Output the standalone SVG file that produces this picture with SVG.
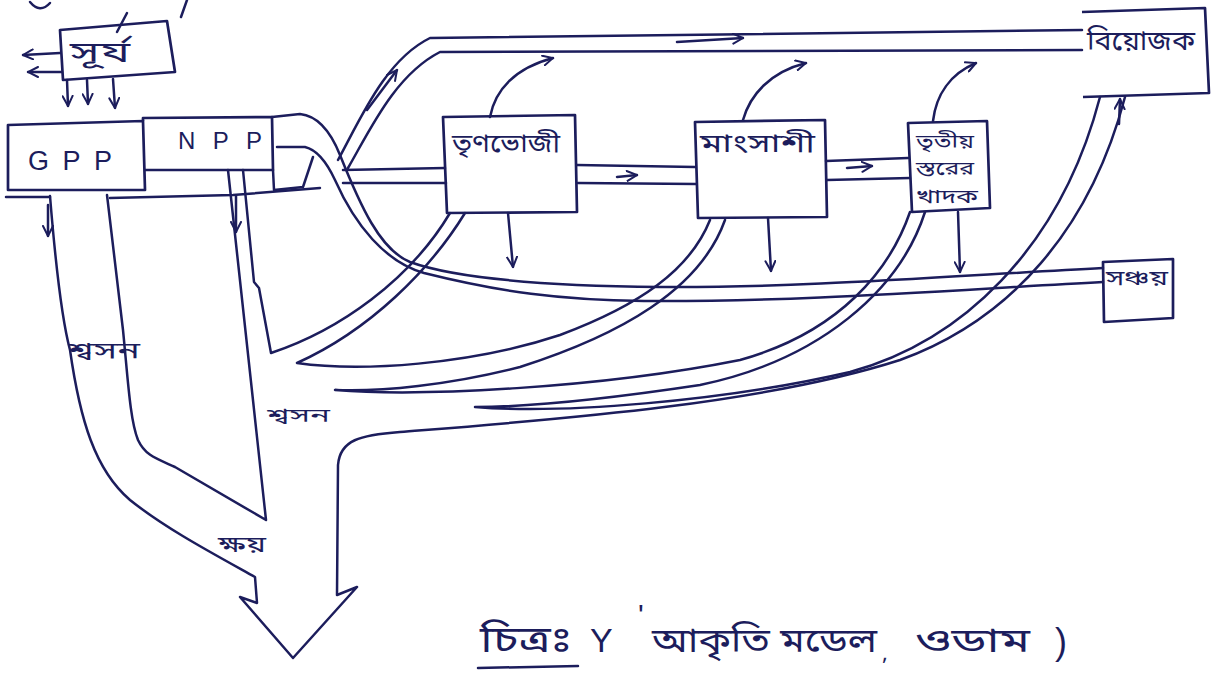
<svg xmlns="http://www.w3.org/2000/svg" width="1223" height="675" viewBox="0 0 1223 675">
<style>
.ink{fill:none;stroke:#1c1d5c;stroke-width:2.5;stroke-linecap:round;stroke-linejoin:round}
.box{fill:none;stroke:#1c1d5c;stroke-width:2.7;stroke-linejoin:round}
.t{font-family:"Noto Sans Bengali","Noto Sans","DejaVu Sans",sans-serif;fill:#1c1d5c}
.lat{font-family:"Liberation Sans","DejaVu Sans",sans-serif;fill:#1c1d5c}
</style>
<defs>
<marker id="ah" viewBox="0 0 12 12" refX="11" refY="6" markerWidth="12" markerHeight="12" markerUnits="userSpaceOnUse" orient="auto">
<path d="M1,1 L11,6 L1,11" fill="none" stroke="#1c1d5c" stroke-width="2" stroke-linecap="round"/>
</marker>
</defs>
<rect width="1223" height="675" fill="#ffffff"/>

<!-- page artefacts -->
<path class="ink" d="M30 2 Q40 14 50 3"/>
<path class="ink" d="M187 0 L181 17"/>

<g id="sun">
<path class="box" d="M60 30 L167 21 L175 72 L63 80 Z"/>
<path class="ink" d="M117 32 L127 13"/>
<text class="t" x="70" y="62" font-size="28" textLength="60" lengthAdjust="spacingAndGlyphs">সূর্য</text>
</g>
<g id="gpp">
<path class="box" d="M8 125 L143 121 L145 190 L8 190 Z"/>
<path class="ink" d="M6 197 L50 197"/>
<text class="lat" x="28" y="170" font-size="27" textLength="84" lengthAdjust="spacing">GPP</text>
</g>
<g id="npp">
<path class="box" d="M143 121 L143 118 L272 117 L273 170 L145 170"/>
<text class="lat" x="178" y="149" font-size="24" textLength="84" lengthAdjust="spacing">NPP</text>
</g>
<g id="herbivore">
<path class="box" d="M443 117 L575 115 L577 212 L447 213 Z"/>
<text class="t" x="452" y="152" font-size="26" textLength="108" lengthAdjust="spacingAndGlyphs">তৃণভোজী</text>
</g>
<g id="carnivore">
<path class="box" d="M695 122 L825 120 L827 217 L698 218 Z"/>
<text class="t" x="700" y="152" font-size="26" textLength="115" lengthAdjust="spacingAndGlyphs">মাংসাশী</text>
</g>
<g id="tertiary">
<path class="box" d="M908 123 L987 121 L990 208 L912 212 Z"/>
<text class="t" x="916" y="148" font-size="19" textLength="58" lengthAdjust="spacingAndGlyphs">তৃতীয়</text>
<text class="t" x="916" y="175" font-size="19" textLength="58" lengthAdjust="spacingAndGlyphs">স্তরের</text>
<text class="t" x="916" y="203" font-size="19" textLength="62" lengthAdjust="spacingAndGlyphs">খাদক</text>
</g>
<g id="decomposer">
<path class="box" d="M1082 12 L1205 8 L1209 93 L1083 97"/>
<text class="t" x="1087" y="50" font-size="27" textLength="108" lengthAdjust="spacingAndGlyphs">বিয়োজক</text>
</g>
<g id="storage">
<path class="box" d="M1103 262 L1173 259 L1173 318 L1104 322 Z"/>
<text class="t" x="1106" y="285" font-size="21" textLength="62" lengthAdjust="spacingAndGlyphs">সঞ্চয়</text>
</g>

<g id="connectors">
<!-- sun arrows -->
<path class="ink" d="M60 53 L23 55" marker-end="url(#ah)"/>
<path class="ink" d="M62 72 L28 72" marker-end="url(#ah)"/>
<path class="ink" d="M67 80 L68 106" marker-end="url(#ah)"/>
<path class="ink" d="M87 80 L88 104" marker-end="url(#ah)"/>
<path class="ink" d="M113 79 L115 108" marker-end="url(#ah)"/>

<!-- GPP / NPP channels -->
<path class="ink" d="M110 198 L233 195 L320 188"/>
<path class="ink" d="M273 170 L274 190 L303 187 L313 157"/>
<path class="ink" d="M50 196 C56 270 62 320 70 350 C80 420 95 470 130 500 C165 528 210 552 255 577 L257 603 L240 597 L293 658 L357 587 L337 595 L338 465 C340 440 360 435 400 432 C550 420 760 405 900 360 C1010 320 1090 230 1125 97"/>
<path class="ink" d="M107 195 L123 330 C128 380 130 420 138 440 C145 455 155 458 175 467 L266 520 L228 170"/>
<path class="ink" d="M243 170 L254 282 L259 288 L271 353 C340 330 410 280 450 213"/>
<path class="ink" d="M48 205 L48 236" marker-end="url(#ah)"/>
<path class="ink" d="M236 196 L236 232" marker-end="url(#ah)"/>

<!-- storage band -->
<path class="ink" d="M272 117 L300 114 C320 116 332 135 340 155 C360 205 380 250 410 262 C460 280 560 286 660 287 C800 288 950 276 1103 268"/>
<path class="ink" d="M277 147 L305 147 C318 150 328 165 335 180 C355 225 385 262 424 273 C500 292 560 300 644 301 C800 302 950 290 1103 282"/>

<!-- top band to decomposer -->
<path class="ink" d="M338 160 C360 120 385 60 430 38 L1082 30"/>
<path class="ink" d="M348 168 C370 130 395 75 440 52 L1082 50"/>
<path class="ink" d="M367 110 L397 70" marker-end="url(#ah)"/>
<path class="ink" d="M677 42 L743 38" marker-end="url(#ah)"/>

<!-- main horizontal bands -->
<path class="ink" d="M343 170 L445 168"/>
<path class="ink" d="M343 183 L446 183"/>
<path class="ink" d="M577 165 L695 167"/>
<path class="ink" d="M578 183 L696 184"/>
<path class="ink" d="M617 177 L637 175" marker-end="url(#ah)"/>
<path class="ink" d="M826 161 L908 158"/>
<path class="ink" d="M827 180 L910 178"/>
<path class="ink" d="M847 168 L872 166" marker-end="url(#ah)"/>

<!-- return branches -->
<path class="ink" d="M465 213 C430 270 370 330 297 363 C360 372 470 365 560 335 C640 305 690 270 710 220"/>
<path class="ink" d="M725 220 C700 290 620 335 520 367 C450 385 380 392 335 390 C420 397 600 388 740 360 C840 332 890 270 910 212"/>
<path class="ink" d="M925 212 C900 290 820 360 700 385 C600 400 520 407 475 407 C560 414 720 402 850 372 C960 342 1060 250 1100 97"/>
<path class="ink" d="M1119 124 L1120 99" marker-end="url(#ah)"/>

<!-- up arrows -->
<path class="ink" d="M490 117 C495 90 515 68 553 58" marker-end="url(#ah)"/>
<path class="ink" d="M743 120 C750 95 770 72 806 63" marker-end="url(#ah)"/>
<path class="ink" d="M933 121 C936 95 950 74 976 63" marker-end="url(#ah)"/>

<!-- down arrows to storage -->
<path class="ink" d="M508 213 L513 267" marker-end="url(#ah)"/>
<path class="ink" d="M768 218 L771 271" marker-end="url(#ah)"/>
<path class="ink" d="M958 212 L960 272" marker-end="url(#ah)"/>
</g>

<g id="labels">
<text class="t" x="68" y="358" font-size="22" textLength="72" lengthAdjust="spacingAndGlyphs">শ্বসন</text>
<text class="t" x="267" y="422" font-size="19" textLength="63" lengthAdjust="spacingAndGlyphs">শ্বসন</text>
<text class="t" x="218" y="552" font-size="22" textLength="48" lengthAdjust="spacingAndGlyphs">ক্ষয়</text>
<text class="t" x="480" y="652" font-size="36" textLength="92" lengthAdjust="spacingAndGlyphs">চিত্রঃ</text>
<path class="ink" d="M478 668 L578 666"/>
<text class="lat" x="590" y="652" font-size="34">Y</text>
<text class="lat" x="638" y="625" font-size="30">'</text>
<text class="t" x="652" y="652" font-size="34" textLength="225" lengthAdjust="spacingAndGlyphs">আকৃতি মডেল</text>
<text class="t" x="882" y="660" font-size="22">,</text>
<text class="t" x="915" y="652" font-size="34" textLength="115" lengthAdjust="spacingAndGlyphs">ওডাম</text>
<text class="lat" x="1055" y="654" font-size="36">)</text>
</g>
</svg>
